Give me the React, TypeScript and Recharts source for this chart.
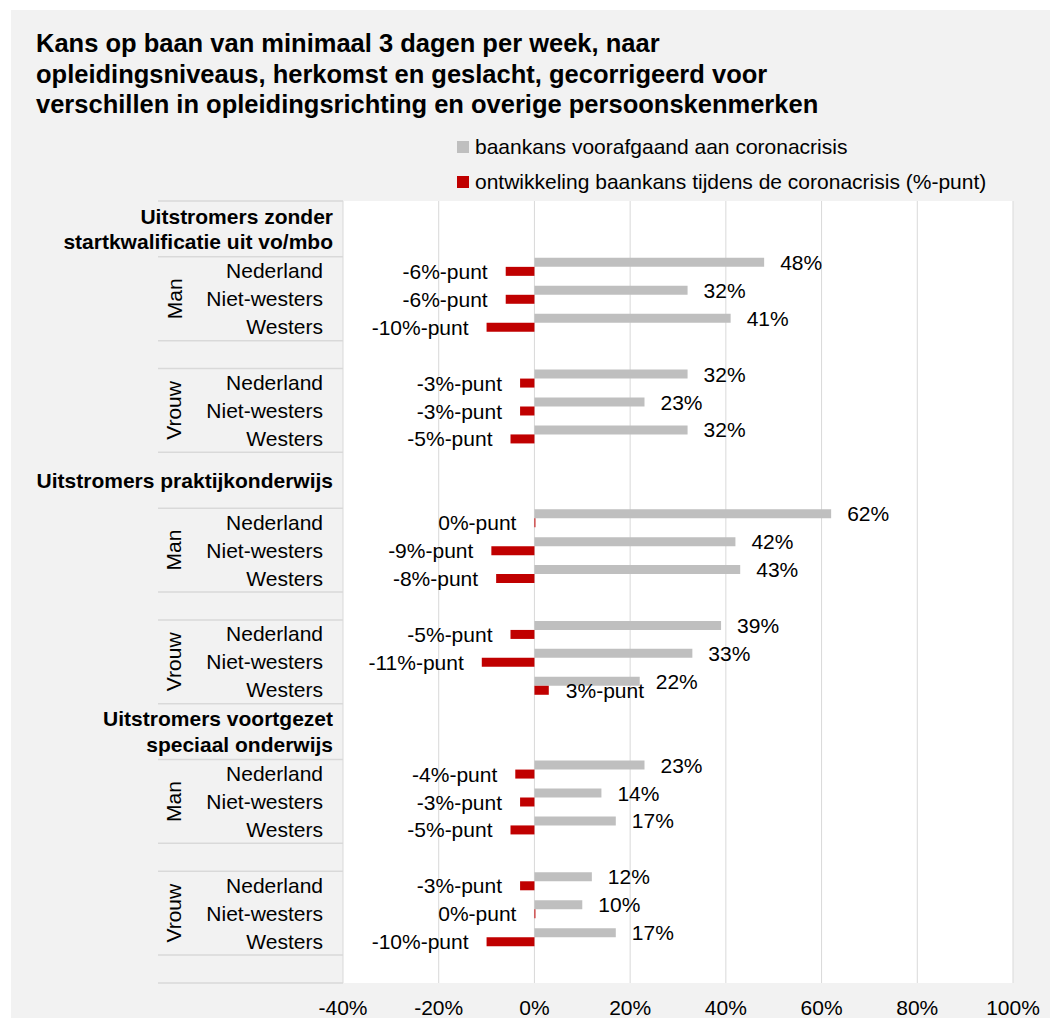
import React from "react";
import {
  BarChart,
  Bar,
  XAxis,
  YAxis,
  CartesianGrid,
  Legend,
  LabelList,
} from "recharts";

const FONT = '"Liberation Sans", Arial, sans-serif';

const groups = [
  ["Uitstromers zonder", "startkwalificatie uit vo/mbo"],
  ["Uitstromers praktijkonderwijs"],
  ["Uitstromers voortgezet", "speciaal onderwijs"],
];
const genders = ["Man", "Vrouw"];
const origins = ["Nederland", "Niet-westers", "Westers"];

// baankans voorafgaand aan coronacrisis (%)
const baankans = [48, 32, 41, 32, 23, 32, 62, 42, 43, 39, 33, 22, 23, 14, 17, 12, 10, 17];
// ontwikkeling tijdens coronacrisis (%-punt)
const ontwikkeling = [-6, -6, -10, -3, -3, -5, 0, -9, -8, -5, -11, 3, -4, -3, -5, -3, 0, -10];

const xTicks = [-40, -20, 0, 20, 40, 60, 80, 100];

const W = 1047;
const H = 1010;
const TOP = 191;
const BOTTOM_AXIS = 30;
const BOTTOM_MARGIN = 7;
const Y_W = 332;

type Row = {
  key: string;
  kind: "head" | "head2" | "item" | "blank";
  lines?: string[];
  gender?: string;
  origin?: string;
  oi?: number;
  base?: number | null;
  change?: number | null;
};

const rows: Row[] = [];
let n = 0;
groups.forEach((lines, g) => {
  rows.push({ key: `h${g}`, kind: "head", lines });
  rows.push({ key: `h${g}b`, kind: "head2" });
  genders.forEach((gender, gi) => {
    if (gi > 0) rows.push({ key: `b${g}${gi}`, kind: "blank" });
    origins.forEach((origin, oi) => {
      rows.push({
        key: `r${g}${gi}${oi}`,
        kind: "item",
        gender,
        origin,
        oi,
        base: baankans[n],
        change: ontwikkeling[n],
      });
      n++;
    });
  });
});
rows.push({ key: "end", kind: "blank" });

const rowMap = new Map(rows.map((r, i) => [r.key, { ...r, i }]));
const ROW_H = (H - TOP - BOTTOM_AXIS - BOTTOM_MARGIN) / rows.length;
const SEP = "#d9d9d9";

const CategoryTick = (props: any) => {
  const { x, y, payload } = props;
  const row: any = rowMap.get(payload.value);
  if (!row) return null;
  const lx = x - 185;
  const parts: React.ReactNode[] = [];
  if (row.i === 0) {
    parts.push(<line key="t" x1={lx} x2={x} y1={y - ROW_H / 2} y2={y - ROW_H / 2} stroke={SEP} strokeWidth={1.5} />);
  }
  if (row.i === rows.length - 1) {
    parts.push(<line key="e" x1={lx} x2={x} y1={y + ROW_H / 2} y2={y + ROW_H / 2} stroke={SEP} strokeWidth={1.5} />);
  }
  if (row.kind === "head") {
    const cy = y + ROW_H / 2;
    const lines: string[] = row.lines;
    lines.forEach((l, k) => {
      const dy = (k - (lines.length - 1) / 2) * 25.5;
      parts.push(
        <text key={`h${k}`} x={x - 10} y={cy + dy} textAnchor="end" dominantBaseline="central" fontWeight="bold" fontSize={21} fill="#000" fontFamily={FONT}>
          {l}
        </text>
      );
    });
  }
  if (row.kind === "item") {
    parts.push(
      <text key="o" x={x - 20} y={y} textAnchor="end" dominantBaseline="central" fontSize={21} fill="#000" fontFamily={FONT}>
        {row.origin}
      </text>
    );
    if (row.oi === 0) {
      parts.push(<line key="s0" x1={lx} x2={x} y1={y - ROW_H / 2} y2={y - ROW_H / 2} stroke={SEP} strokeWidth={1.5} />);
    }
    if (row.oi === 1) {
      parts.push(
        <text key="g" x={x - 169} y={y} textAnchor="middle" dominantBaseline="central" fontSize={21} fill="#000" fontFamily={FONT} transform={`rotate(-90 ${x - 169} ${y})`}>
          {row.gender}
        </text>
      );
    }
    if (row.oi === 2) {
      parts.push(<line key="s2" x1={lx} x2={x} y1={y + ROW_H / 2} y2={y + ROW_H / 2} stroke={SEP} strokeWidth={1.5} />);
    }
  }
  return <g>{parts}</g>;
};

const makeLabel = (suffix: string, gapPos: number, gapNeg: number) => (props: any) => {
  const vb = props.viewBox || props;
  const { value } = props;
  if (value == null) return null;
  const x = vb.x;
  const w = vb.width || 0;
  const left = Math.min(x, x + w);
  const right = Math.max(x, x + w);
  const pos = value > 0;
  return (
    <text
      x={pos ? right + gapPos : left - gapNeg}
      y={vb.y + vb.height / 2}
      textAnchor={pos ? "start" : "end"}
      dominantBaseline="central"
      fontSize={21}
      fill="#000"
      fontFamily={FONT}
    >
      {value + suffix}
    </text>
  );
};

const LegendContent = () => (
  <div style={{ fontFamily: FONT, fontSize: 21, color: "#000" }}>
    {[
      { c: "#bfbfbf", t: "baankans voorafgaand aan coronacrisis" },
      { c: "#c00000", t: "ontwikkeling baankans tijdens de coronacrisis (%-punt)" },
    ].map((it) => (
      <div key={it.t} style={{ display: "flex", alignItems: "center", height: 35, whiteSpace: "nowrap" }}>
        <span style={{ display: "inline-block", width: 12, height: 12, background: it.c, marginRight: 6 }} />
        <span>{it.t}</span>
      </div>
    ))}
  </div>
);

export default function App() {
  return (
    <div
      style={{
        position: "relative",
        left: 3,
        top: 2,
        width: W,
        height: H,
        background: "#f2f2f2",
        fontFamily: FONT,
      }}
    >
      <div
        style={{
          position: "absolute",
          left: 25,
          top: 18,
          fontSize: 25.5,
          fontWeight: "bold",
          lineHeight: "30.5px",
          color: "#000",
          whiteSpace: "nowrap",
        }}
      >
        Kans op baan van minimaal 3 dagen per week, naar
        <br />
        opleidingsniveaus, herkomst en geslacht, gecorrigeerd voor
        <br />
        verschillen in opleidingsrichting en overige persoonskenmerken
      </div>
      <BarChart
        width={W}
        height={H}
        data={rows}
        layout="vertical"
        margin={{ top: TOP, right: 45, bottom: BOTTOM_MARGIN, left: 0 }}
        barCategoryGap={1}
        barGap={0}
      >
        <CartesianGrid horizontal={false} stroke="#d9d9d9" fill="#ffffff" />
        <XAxis
          type="number"
          domain={[-40, 100]}
          ticks={xTicks}
          tickFormatter={(v) => `${v}%`}
          axisLine={false}
          tickLine={false}
          tickSize={0}
          tickMargin={17}
          height={BOTTOM_AXIS}
          tick={{ fill: "#000", fontSize: 21, fontFamily: FONT }}
          allowDataOverflow
        />
        <YAxis
          type="category"
          dataKey="key"
          width={Y_W}
          axisLine={false}
          tickLine={false}
          tickSize={0}
          tickMargin={0}
          interval={0}
          tick={<CategoryTick />}
        />
        <Legend
          layout="vertical"
          align="center"
          verticalAlign="middle"
          wrapperStyle={{ top: 119, left: 446, width: "auto" }}
          content={<LegendContent />}
        />
        <Bar dataKey="base" name="baankans voorafgaand aan coronacrisis" fill="#bfbfbf" isAnimationActive={false}>
          <LabelList dataKey="base" content={makeLabel("%", 16, 16)} />
        </Bar>
        <Bar
          dataKey="change"
          name="ontwikkeling baankans tijdens de coronacrisis (%-punt)"
          fill="#c00000"
          isAnimationActive={false}
          minPointSize={(v: any) => (v === 0 ? 1 : 0)}
        >
          <LabelList dataKey="change" content={makeLabel("%-punt", 17, 18)} />
        </Bar>
        <Bar dataKey="spacer" fill="none" legendType="none" isAnimationActive={false} />
      </BarChart>
    </div>
  );
}
